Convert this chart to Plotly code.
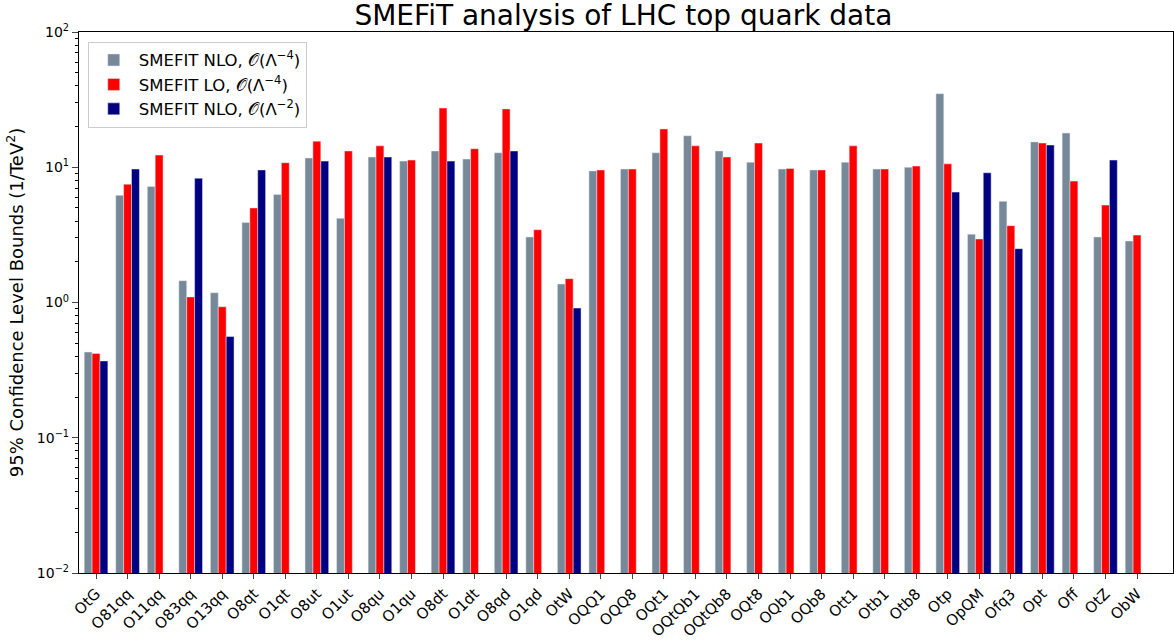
import plotly.graph_objects as go

# operators and 95% CL bounds (1/TeV^2)
operators = ['OtG', 'O81qq', 'O11qq', 'O83qq', 'O13qq', 'O8qt', 'O1qt', 'O8ut', 'O1ut',
             'O8qu', 'O1qu', 'O8dt', 'O1dt', 'O8qd', 'O1qd', 'OtW', 'OQQ1', 'OQQ8', 'OQt1',
             'OQtQb1', 'OQtQb8', 'OQt8', 'OQb1', 'OQb8', 'Ott1', 'Otb1', 'Otb8', 'Otp',
             'OpQM', 'Ofq3', 'Opt', 'Off', 'OtZ', 'ObW']

nlo_quad = [0.43, 6.2, 7.2, 1.45, 1.18, 3.9, 6.3, 11.7, 4.2, 11.9, 11.1, 13.2, 11.5, 12.8,
            3.05, 1.37, 9.4, 9.7, 12.8, 17.1, 13.2, 10.9, 9.7, 9.55, 10.9, 9.7, 10.0, 35.0,
            3.2, 5.6, 15.4, 17.9, 3.05, 2.85]
lo_quad = [0.42, 7.5, 12.3, 1.1, 0.93, 5.0, 10.8, 15.6, 13.2, 14.4, 11.3, 27.4, 13.7, 27.0,
           3.45, 1.5, 9.55, 9.7, 19.2, 14.4, 11.9, 15.1, 9.8, 9.55, 14.4, 9.7, 10.2, 10.6,
           2.95, 3.7, 15.1, 7.9, 5.25, 3.15]
nlo_lin = [0.37, 9.7, None, 8.3, 0.56, 9.55, None, 11.1, None, 11.9, None, 11.1, None, 13.2,
           None, 0.91, None, None, None, None, None, None, None, None, None, None, None, 6.55,
           9.1, 2.5, 14.6, None, 11.3, None]

font = 'DejaVu Sans'
fig = go.Figure()
fig.add_trace(go.Bar(x=operators, y=nlo_quad, name='SMEFIT NLO, 𝒪(Λ<sup>−4</sup>)',
                     marker_color='lightslategray'))
fig.add_trace(go.Bar(x=operators, y=lo_quad, name='SMEFIT LO, 𝒪(Λ<sup>−4</sup>)',
                     marker_color='red'))
fig.add_trace(go.Bar(x=operators, y=nlo_lin, name='SMEFIT NLO, 𝒪(Λ<sup>−2</sup>)',
                     marker_color='navy'))

minor_vals = [k * 10**e for e in range(-2, 2) for k in range(2, 10)]

fig.update_layout(
    width=1174, height=640,
    barmode='group', bargap=0.25, bargroupgap=0,
    plot_bgcolor='white', paper_bgcolor='white',
    font=dict(family=font, color='black'),
    margin=dict(l=79, r=1, t=32, b=67),
    title=dict(text='SMEFiT analysis of LHC top quark data', x=0.531, xanchor='center',
               yref='container', y=0.976, yanchor='middle', pad=dict(t=0, b=0),
               font=dict(size=28)),
    legend=dict(x=0.008, y=0.982, xanchor='left', yanchor='top', font=dict(size=16.5),
                bordercolor='#cccccc', borderwidth=1, bgcolor='rgba(255,255,255,0.8)',
                itemwidth=40),
    showlegend=True,
)
fig.update_xaxes(
    range=[-0.54, 34.14], tickangle=-45, tickfont=dict(size=15),
    ticks='outside', ticklen=5, showline=True, linecolor='black', linewidth=1.2,
    mirror=True, showgrid=False, automargin=False,
)
fig.update_yaxes(
    type='log', range=[-2, 2],
    tickvals=[0.01, 0.1, 1, 10, 100],
    ticktext=['10<sup>−2</sup>', '10<sup>−1</sup>', '10<sup>0</sup>', '10<sup>1</sup>', '10<sup>2</sup>'],
    tickfont=dict(size=14), ticks='outside', ticklen=6,
    minor=dict(tickvals=minor_vals, ticks='outside', ticklen=3, tickcolor='black'),
    showline=True, linecolor='black', linewidth=1.2, mirror=True, showgrid=False,
    automargin=False,
    title=dict(text='95% Confidence Level Bounds (1/TeV<sup>2</sup>)', font=dict(size=18),
               standoff=8),
)

# drop the page's default body margin so the figure sits at the window origin
fig.write_html('out.html', config={'displayModeBar': False},
               post_script="document.body.style.margin = '0';")
